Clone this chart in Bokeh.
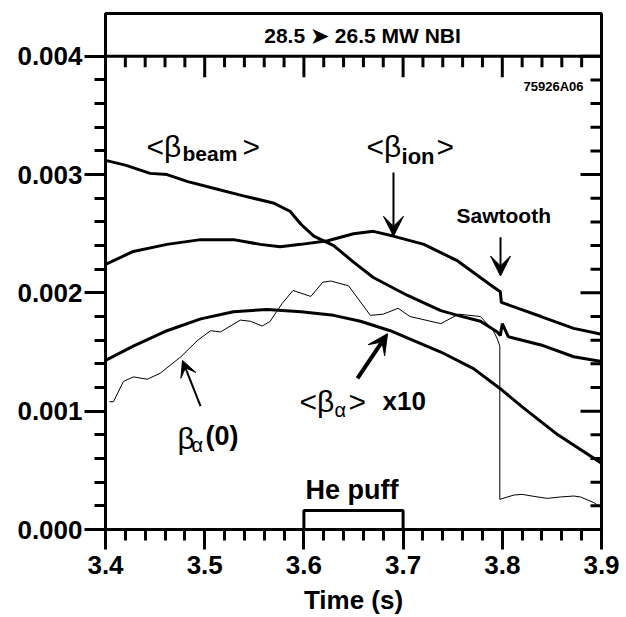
import math
from bokeh.plotting import figure
from bokeh.models import (Range1d, LinearAxis, FixedTicker, PrintfTickFormatter,
                          Label, Arrow, VeeHead, Span)
from bokeh.embed import file_html
from bokeh.resources import INLINE

# ---------------- data ----------------
time_beam = [3.400, 3.420, 3.445, 3.462, 3.483, 3.506, 3.539, 3.569, 3.586, 3.597,
             3.610, 3.630, 3.650, 3.670, 3.704, 3.738, 3.755, 3.778, 3.795, 3.798,
             3.800, 3.806, 3.839, 3.872, 3.900]
beta_beam = [0.00312, 0.00308, 0.00301, 0.00300, 0.00294, 0.00289, 0.00282, 0.00276, 0.00269, 0.00258,
             0.00248, 0.00240, 0.00226, 0.00213, 0.00198, 0.00185, 0.00181, 0.00176, 0.00167, 0.00164,
             0.00174, 0.00163, 0.00156, 0.00146, 0.00142]

time_ion = [3.400, 3.428, 3.462, 3.496, 3.529, 3.556, 3.576, 3.597, 3.624, 3.650,
            3.670, 3.690, 3.721, 3.755, 3.791, 3.798, 3.799, 3.839, 3.872, 3.900]
beta_ion = [0.00224, 0.00235, 0.00241, 0.00245, 0.00245, 0.00241, 0.00239, 0.00241, 0.00244, 0.00250,
            0.00252, 0.00248, 0.00241, 0.00227, 0.00205, 0.00201, 0.00192, 0.00180, 0.00170, 0.00165]

time_alpha = [3.400, 3.428, 3.462, 3.496, 3.529, 3.563, 3.597, 3.630, 3.657, 3.687,
              3.738, 3.771, 3.798, 3.821, 3.856, 3.900]
beta_alpha_x10 = [0.00143, 0.00155, 0.00168, 0.00178, 0.00184, 0.00186, 0.00184, 0.00181, 0.00176, 0.00168,
                  0.00150, 0.00136, 0.00119, 0.00103, 0.00080, 0.00056]

time_alpha0 = [3.404, 3.408, 3.418, 3.428, 3.442, 3.455, 3.476, 3.493, 3.506, 3.516,
               3.536, 3.546, 3.558, 3.566, 3.578, 3.589, 3.607, 3.619, 3.627, 3.645,
               3.667, 3.680, 3.695, 3.707, 3.738, 3.756, 3.778, 3.791, 3.795, 3.7975,
               3.7975, 3.8116, 3.820, 3.8318, 3.8453, 3.8587, 3.8721, 3.8788, 3.8923, 3.8973]
beta_alpha0 = [0.00108, 0.00108, 0.00125, 0.00129, 0.00127, 0.00132, 0.00146, 0.00160, 0.00168, 0.00167,
               0.00177, 0.00176, 0.00172, 0.00176, 0.00191, 0.00202, 0.00197, 0.00209, 0.00210, 0.00206,
               0.00181, 0.00182, 0.00187, 0.00180, 0.00174, 0.00182, 0.00180, 0.00168, 0.00161, 0.00155,
               0.000255, 0.000291, 0.000297, 0.000280, 0.000263, 0.000275, 0.000283, 0.000275, 0.000227, 0.000199]

he_puff_start = [3.6]
he_puff_end = [3.7]
he_puff_level = [0.00016]

x_ticks = [3.4, 3.5, 3.6, 3.7, 3.8, 3.9]
x_minor = [3.42, 3.44, 3.46, 3.48, 3.52, 3.54, 3.56, 3.58, 3.62, 3.64, 3.66, 3.68,
           3.72, 3.74, 3.76, 3.78, 3.82, 3.84, 3.86, 3.88]
y_ticks = [0.0, 0.001, 0.002, 0.003, 0.004]
y_minor = [0.0002, 0.0004, 0.0006, 0.0008, 0.0012, 0.0014, 0.0016, 0.0018,
           0.0022, 0.0024, 0.0026, 0.0028, 0.0032, 0.0034, 0.0036, 0.0038]

header_text = "28.5 \u27a4 26.5 MW NBI"
FONT = "Liberation Sans"
TICK = "black"

X_MIN, X_MAX = 3.4, 3.9
Y_TOP_AXIS = 0.004
Y_HEADER_TOP = 0.0043613

p = figure(width=626, height=617, output_backend="svg", toolbar_location=None,
           x_range=Range1d(X_MIN, X_MAX), y_range=Range1d(0.0, Y_HEADER_TOP),
           x_axis_location=None, y_axis_location=None,
           min_border_left=105, min_border_right=25, min_border_top=13, min_border_bottom=85)
p.grid.visible = False
p.outline_line_color = "black"
p.outline_line_width = 3


def style_axis(ax, tick_out, minor_out):
    ax.axis_line_width = 3
    ax.axis_line_color = "black"
    ax.major_tick_line_width = 3
    ax.minor_tick_line_width = 3
    ax.major_tick_line_color = TICK
    ax.minor_tick_line_color = TICK
    ax.major_tick_in = 0
    ax.major_tick_out = tick_out
    ax.minor_tick_in = 0
    ax.minor_tick_out = minor_out
    ax.major_label_text_font = FONT
    ax.major_label_text_font_style = "bold"
    ax.major_label_text_color = "black"


xb = LinearAxis(ticker=FixedTicker(ticks=x_ticks, minor_ticks=x_minor))
style_axis(xb, 20, 11)
xb.major_label_text_font_size = "26px"
xb.major_label_standoff = 6
xb.axis_label = "Time (s)"
xb.axis_label_text_font = FONT
xb.axis_label_text_font_size = "26px"
xb.axis_label_text_font_style = "bold"
xb.axis_label_text_color = "black"
xb.axis_label_standoff = 8
p.add_layout(xb, "below")

yl = LinearAxis(ticker=FixedTicker(ticks=y_ticks, minor_ticks=y_minor),
                formatter=PrintfTickFormatter(format="%.3f"))
style_axis(yl, 21, 11)
yl.major_label_text_font_size = "26px"
yl.major_label_standoff = 2
p.add_layout(yl, "left")

# separator line under the header box (inner top axis line)
p.add_layout(Span(location=Y_TOP_AXIS, dimension="width", line_color="black", line_width=3))

# inward ticks: down from the 0.004 line, left from the right edge
p.ray(x=x_ticks, y=[Y_TOP_AXIS] * len(x_ticks), length=21, length_units="screen",
      angle=-math.pi / 2, line_color=TICK, line_width=3)
p.ray(x=x_minor, y=[Y_TOP_AXIS] * len(x_minor), length=11, length_units="screen",
      angle=-math.pi / 2, line_color=TICK, line_width=3)
p.ray(x=[X_MAX] * len(y_ticks), y=y_ticks, length=21, length_units="screen",
      angle=math.pi, line_color=TICK, line_width=3)
p.ray(x=[X_MAX] * len(y_minor), y=y_minor, length=11, length_units="screen",
      angle=math.pi, line_color=TICK, line_width=3)

# curves
p.line(time_beam, beta_beam, line_color="black", line_width=3)
p.line(time_ion, beta_ion, line_color="black", line_width=3)
p.line(time_alpha, beta_alpha_x10, line_color="black", line_width=3)
p.line(time_alpha0, beta_alpha0, line_color="black", line_width=1)

p.quad(left=he_puff_start, right=he_puff_end, bottom=[0.0], top=he_puff_level,
       fill_color=None, line_color="black", line_width=3)


def lab(x, y, text, size, style="bold", align="left", baseline="middle"):
    p.add_layout(Label(x=x, y=y, text=text, text_font=FONT, text_font_size=size,
                       text_font_style=style, text_align=align, text_baseline=baseline,
                       text_color="black"))


lab(3.6591, 0.004176, header_text, "21px", align="center")
lab(3.8819, 0.003748, "75926A06", "13px", align="right")
lab(3.4413, 0.003235, "<\u03b2", "30px", style="normal")
lab(3.4776, 0.003176, "beam", "21px")
lab(3.5381, 0.003235, ">", "30px", style="normal")
lab(3.6631, 0.003235, "<\u03b2", "30px", style="normal")
lab(3.6984, 0.003151, "ion", "22px")
lab(3.7337, 0.003235, ">", "30px", style="normal")
lab(3.7538, 0.002655, "Sawtooth", "21px")
lab(3.5956, 0.001084, "<\u03b2", "30px", style="normal")
lab(3.6309, 0.001008, "\u03b1", "20px", style="normal")
lab(3.6450, 0.001084, ">", "30px", style="normal")
lab(3.6792, 0.001084, "x10", "26px")
lab(3.4726, 0.000773, "\u03b2", "30px", style="normal")
lab(3.4867, 0.000714, "\u03b1", "20px", style="normal")
lab(3.5008, 0.000790, "(0)", "27px")
lab(3.6016, 0.000336, "He puff", "27px")


def arrow(x0, y0, x1, y1, width, head):
    p.add_layout(Arrow(end=VeeHead(size=head, fill_color="black", line_color="black", line_width=1),
                       x_start=x0, y_start=y0, x_end=x1, y_end=y1,
                       line_color="black", line_width=width))


arrow(3.6903, 0.003017, 3.6903, 0.002479, 2, 20)
arrow(3.7982, 0.002471, 3.7982, 0.002143, 2, 20)
arrow(3.4958, 0.001042, 3.4776, 0.001429, 2, 16)
arrow(3.6540, 0.001277, 3.6843, 0.001655, 4, 20)

open("out.html", "w").write(file_html(p, INLINE))
